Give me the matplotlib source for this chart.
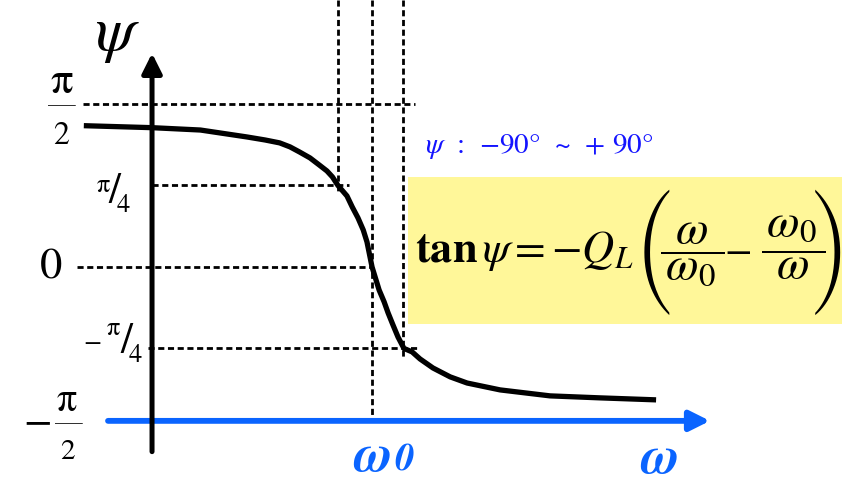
import matplotlib.pyplot as plt
from matplotlib.patches import Rectangle

plt.rcParams['mathtext.fontset'] = 'stix'
plt.rcParams['font.family'] = ['STIXGeneral', 'DejaVu Sans']

# phase curve of a parallel resonant circuit, omega normalised to omega0, psi in degrees
omega = [-0.31, 0.0, 0.22, 0.43, 0.514, 0.58, 0.627, 0.67, 0.718, 0.76, 0.795, 0.82,
         0.845, 0.886, 0.91, 0.936, 0.96, 0.977, 1.0, 1.032, 1.055, 1.073, 1.095,
         1.118, 1.145, 1.182, 1.218, 1.277, 1.355, 1.432, 1.582, 1.809, 2.036, 2.291]
psi = [78.0, 76.9, 75.6, 71.8, 70.1, 68.5, 66.3, 63.5, 60.2, 56.3, 53.0, 49.7,
       45.0, 39.2, 33.1, 27.1, 20.4, 13.8, 0.0, -12.7, -19.3, -25.4, -32.0,
       -38.7, -45.0, -46.9, -50.8, -55.8, -60.7, -64.1, -67.9, -71.2, -72.3, -73.4]

# half-power points and resonance
w1 = 0.845
w0 = 1.0
w2 = 1.14
levels = [90, 45, 0, -45]

AXIS_BLUE = '#0A64FF'
NOTE_BLUE = '#1414FF'
BOX_YELLOW = '#FFF799'

fig = plt.figure(figsize=(8.42, 4.79), dpi=100)
ax = fig.add_axes([0, 0, 1, 1])
ax.set_xlim(-0.691, 3.136)
ax.set_ylim(-117.1, 147.4)
ax.axis('off')

dash = dict(color='k', lw=2.0, dashes=(2.2, 1.3))

# horizontal guides at the psi levels
ax.plot([-0.314, 1.195], [levels[0], levels[0]], **dash)
ax.plot([0.0, 0.895], [levels[1], levels[1]], **dash)
ax.plot([-0.34, w0], [levels[2], levels[2]], **dash)
ax.plot([-0.018, 1.218], [levels[3], levels[3]], **dash)

# vertical guides at w1, w0, w2
ax.plot([w1, w1], [147.4, 41], **dash)
ax.plot([w0, w0], [147.4, -85], **dash)
ax.plot([w2, w2], [147.4, -49.7], **dash)

# formula box
ax.add_patch(Rectangle((1.1636, -31.5), 3.2, 81.2, facecolor=BOX_YELLOW,
                       edgecolor='none', zorder=1))

# axes arrows
ax.annotate('', xy=(0, 118), xytext=(0, -102),
            arrowprops=dict(arrowstyle='-|>,head_length=1.2,head_width=0.6',
                            lw=3.6, color='k', shrinkA=0, shrinkB=0), zorder=4)
ax.annotate('', xy=(2.536, -85), xytext=(-0.2, -85),
            arrowprops=dict(arrowstyle='-|>,head_length=1.2,head_width=0.6',
                            lw=4.2, color=AXIS_BLUE, shrinkA=0, shrinkB=0), zorder=3)

ax.plot(omega, psi, color='k', lw=3.8, solid_capstyle='butt',
        solid_joinstyle='round', zorder=5)

# y axis name
ax.text(-0.159, 127.6, r'$\psi$', fontsize=46, ha='center', va='center')

# tick labels: pi/2, pi/4, 0, -pi/4, -pi/2
ax.text(-0.409, 101.9, r'$\mathrm{\pi}$', fontsize=32, ha='center', va='center')
ax.text(-0.409, 90.0, r'$—$', fontsize=20, ha='center', va='center')
ax.text(-0.409, 72.3, r'$2$', fontsize=23, ha='center', va='center')

ax.text(-0.221, 44.5, r'$\mathrm{\pi}$', fontsize=19, ha='center', va='center')
ax.text(-0.168, 41.1, r'$/$', fontsize=31, ha='center', va='center')
ax.text(-0.13, 33.7, r'$4$', fontsize=19, ha='center', va='center')

ax.text(-0.459, 0, r'$0$', fontsize=32, ha='center', va='center')

ax.text(-0.271, -41.4, r'$-$', fontsize=19, ha='center', va='center')
ax.text(-0.175, -34.0, r'$\mathrm{\pi}$', fontsize=19, ha='center', va='center')
ax.text(-0.114, -41.7, r'$/$', fontsize=31, ha='center', va='center')
ax.text(-0.077, -49.1, r'$4$', fontsize=19, ha='center', va='center')

ax.text(-0.525, -86.1, r'$-$', fontsize=30, ha='center', va='center')
ax.text(-0.389, -74.3, r'$\mathrm{\pi}$', fontsize=29, ha='center', va='center')
ax.text(-0.380, -85.6, r'$—$', fontsize=20, ha='center', va='center')
ax.text(-0.384, -102.7, r'$2$', fontsize=21, ha='center', va='center')

# range note
ax.text(1.241, 63, r'$\psi$  :  −90°  ~  + 90°', fontsize=21, color=NOTE_BLUE,
        ha='left', va='baseline')

# formula, with tall parentheses from the STIX size fonts
ax.text(1.195, 2.76, r'$\mathbf{tan}\,\psi=-Q_L$', fontsize=32,
        ha='left', va='baseline', zorder=2)
ax.text(2.282, 8.0, '(', fontsize=37, family='STIXSizeThreeSym',
        ha='center', va='center', zorder=2)
ax.text(2.4545, 2.76, r'$\dfrac{\omega}{\,\omega_0\,}$', fontsize=34,
        ha='center', va='baseline', zorder=2)
ax.text(2.659, 8.8, r'$-$', fontsize=29, ha='center', va='center', zorder=2)
ax.text(2.914, 2.76, r'$\dfrac{\,\omega_0\,}{\omega}$', fontsize=34,
        ha='center', va='baseline', zorder=2)
ax.text(3.08, 8.0, ')', fontsize=37, family='STIXSizeThreeSym',
        ha='center', va='center', zorder=2)

# x axis labels
ax.text(0.914, -112.6, 'ω', fontsize=38, color=AXIS_BLUE, style='italic',
        fontweight='bold', ha='left', va='baseline')
ax.text(1.1, -112.6, '0', fontsize=28, color=AXIS_BLUE, style='italic',
        fontweight='bold', ha='left', va='baseline')
ax.text(2.305, -113.7, 'ω', fontsize=38, color=AXIS_BLUE, style='italic',
        fontweight='bold', ha='center', va='baseline')

fig.savefig('out.png', dpi=100)
